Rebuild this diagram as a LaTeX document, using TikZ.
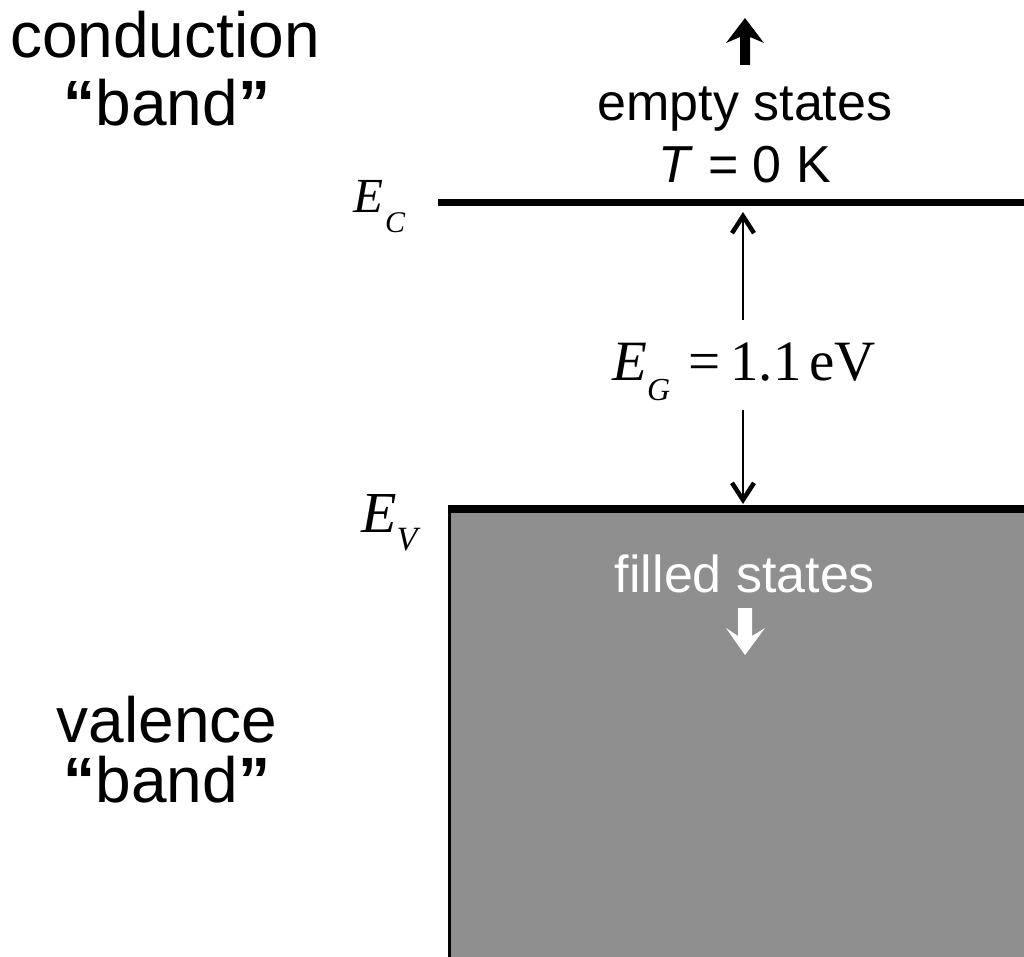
\documentclass[tikz,border=0pt]{standalone}
\usepackage{fontspec}
\setmainfont{Liberation Sans}
\newfontfamily\tms{Liberation Serif}
\usetikzlibrary{arrows.meta}
\definecolor{bandgray}{HTML}{8F8F8F}
\tikzset{
  big/.style={font=\fontsize{64}{68}\selectfont, inner sep=0, anchor=base, align=center},
  mid/.style={font=\fontsize{52}{56}\selectfont, inner sep=0, anchor=base},
  lvl/.style={line width=7pt},
  gap/.style={line width=1.8pt, -{Straight Barb[length=17pt,width=22pt,line width=4.5pt]}},
}
\newcommand{\bq}[1]{\textbf{#1}}
\begin{document}
\begin{tikzpicture}[x=1pt,y=-1pt]
\useasboundingbox (0,0) rectangle (1024,957);
% valence band block
\fill[bandgray] (450,512) rectangle (1024,957);
\draw[line width=3pt] (449,510) -- (449,957);
% levels
\coordinate (ecL) at (438,202.5);
\coordinate (ecR) at (1024,202.5);
\coordinate (evL) at (447.5,509);
\coordinate (evR) at (1024,509);
\draw[lvl] (ecL) -- (ecR);
\draw[line width=8pt] (evL) -- (evR);
% side labels
\node[big] (cond) at (165,58) {conduction};
\node[big] (cband) at (167,126) {\bq{“}band\bq{”}};
\node[big] (val) at (167,742) {valence};
\node[big] (vband) at (167,802) {\bq{“}band\bq{”}};
% energy labels
\node[anchor=base west, inner sep=0] (ec) at (353,213) {\tms\fontsize{49}{49}\selectfont\textit{E}\hspace{2pt}\raisebox{-20pt}{\fontsize{30}{30}\selectfont\textit{C}}};
\node[anchor=base west, inner sep=0] (ev) at (361,532) {\tms\fontsize{58}{58}\selectfont\textit{E}\raisebox{-18pt}{\fontsize{34}{34}\selectfont\textit{V}}};
\node[anchor=base west, inner sep=0] (eg) at (612,380) {\tms\fontsize{57}{57}\selectfont\textit{E}\raisebox{-20pt}{\fontsize{32}{32}\selectfont\textit{G}}\hspace{18pt}=\hspace{10pt}1.1\hspace{8pt}eV};
% gap arrows
\coordinate (gtop) at (743,320);
\coordinate (gbot) at (743,410);
\coordinate (ectip) at (743,212);
\coordinate (evtip) at (743,504);
\draw[gap] (gtop) -- (ectip);
\draw[gap] (gbot) -- (evtip);
% empty states
\node[mid] (empty) at (745,121) {empty states};
\node[mid] (temp) at (745,183) {\textit{T} = 0 K};
\fill (745,18) -- (764,43) -- (750,37) -- (750,65) -- (740,65) -- (740,37) -- (726,43) -- cycle;
% filled states
\node[mid, text=white] (filled) at (745,592) {filled states};
\fill[white] (745,655) -- (765,628) -- (752,636) -- (752,608) -- (738,608) -- (738,636) -- (726,628) -- cycle;
\end{tikzpicture}
\end{document}
